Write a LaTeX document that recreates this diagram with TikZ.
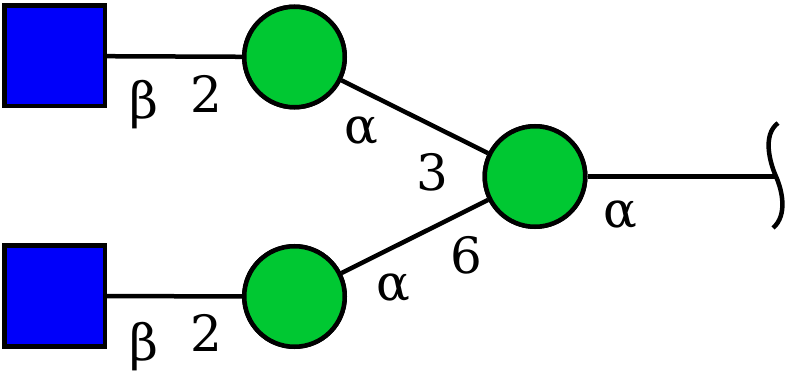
\documentclass[tikz,border=0pt]{standalone}
\usepackage{fontspec}
\newfontfamily\labfont{DejaVu Serif}
\definecolor{glcblue}{RGB}{0,0,250}
\definecolor{glcgreen}{RGB}{0,200,50}
\begin{document}
\begin{tikzpicture}[x=1pt,y=-1pt,
  sq/.style={draw=black,line width=4.5pt,fill=glcblue,minimum size=100.5pt,inner sep=0pt,rectangle},
  cir/.style={draw=black,line width=4.5pt,fill=glcgreen,minimum size=100.5pt,inner sep=0pt,circle},
  bond/.style={line width=4.5pt},
  lab/.style={inner sep=0pt,font=\labfont\fontsize{50}{50}\selectfont}]
\useasboundingbox (0,0) rectangle (789,379);
\node[sq] (s1) at (54.5,56) {};
\node[sq] (s2) at (54.5,296) {};
\node[cir] (c1) at (294.5,57) {};
\node[cir] (c2) at (294.5,296.5) {};
\node[cir] (c3) at (535,176.5) {};
\coordinate (e) at (776,176.5);
\draw[bond] (s1) -- (c1);
\draw[bond] (s2) -- (c2);
\draw[bond] (c1) -- (c3);
\draw[bond] (c2) -- (c3);
\draw[bond] (c3) -- (e);
\draw[bond] (778,123) .. controls (762,135) and (770,163) .. (e) .. controls (782,190) and (788,215) .. (773,228);
\node[sq] at (s1) {};
\node[sq] at (s2) {};
\node[cir] at (c1) {};
\node[cir] at (c2) {};
\node[cir] at (c3) {};
\node[lab] (b1) at (144,105) {β};
\node[lab] (n1) at (206,94) {2};
\node[lab] (b2) at (144,347) {β};
\node[lab] (n2) at (206,333) {2};
\node[lab] (a1) at (361,131) {α};
\node[lab] (n3) at (432,172) {3};
\node[lab] (a2) at (393,288) {α};
\node[lab] (n6) at (466,255) {6};
\node[lab] (a3) at (620,215) {α};
\end{tikzpicture}
\end{document}
